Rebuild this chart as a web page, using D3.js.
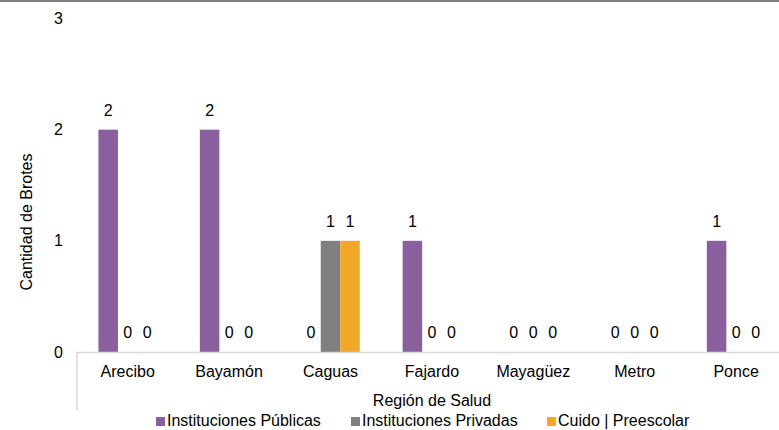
<!DOCTYPE html>
<html>
<head>
<meta charset="utf-8">
<script src="https://cdn.jsdelivr.net/npm/d3@7"></script>
<style>
  body { margin: 0; background: #fff; }
  svg { display: block; font-family: "Liberation Sans", Arial, sans-serif; }
  text { fill: #000; font-size: 16px; }
</style>
</head>
<body>
<svg width="779" height="430"></svg>
<script>
const regions = ['Arecibo', 'Bayamón', 'Caguas', 'Fajardo', 'Mayagüez', 'Metro', 'Ponce']
const seriesNames = ['Instituciones Públicas', 'Instituciones Privadas', 'Cuido | Preescolar']
const publicas = [2, 2, 0, 1, 0, 0, 1]
const privadas = [0, 0, 1, 0, 0, 0, 0]
const cuido = [0, 0, 1, 0, 0, 0, 0]
const yTicks = [0, 1, 2, 3]

const colors = ['#8A5F9E', '#7F7F7F', '#F0A72A']
const values = [publicas, privadas, cuido]

const svg = d3.select('svg')
const width = +svg.attr('width')

const baseY = 352
const left = 77

// top border
svg.append('rect')
    .attr('x', 0).attr('y', 0)
    .attr('width', width).attr('height', 2)
    .attr('fill', '#7f7f7f')

const yScale = d3.scaleLinear()
    .domain([0, 3])
    .range([baseY, 18.5])

const x0 = d3.scaleBand()
    .domain(regions)
    .range([left, left + 101.4 * regions.length])

const x1 = d3.scaleBand()
    .domain(seriesNames)
    .range([0, x0.bandwidth()])
    .paddingOuter(1.1)

// y axis labels
svg.append('g')
    .attr('transform', `translate(${left},0)`)
    .call(d3.axisLeft(yScale).tickValues(yTicks).tickSize(0).tickPadding(14).tickFormat(d3.format('d')))
    .call(g => g.select('.domain').remove())
    .selectAll('text')
        .style('font-size', '16px')
        .style('font-family', '"Liberation Sans", Arial, sans-serif')
        .attr('fill', '#000')

const rows = regions.map((r, i) => ({
    region: r,
    bars: seriesNames.map((s, j) => ({ series: s, value: values[j][i], color: colors[j] }))
}))

const groups = svg.selectAll('.grp')
    .data(rows)
    .enter().append('g')
    .attr('class', 'grp')
    .attr('transform', d => `translate(${x0(d.region)},0)`)

groups.selectAll('rect')
    .data(d => d.bars)
    .enter().append('rect')
    .attr('x', d => x1(d.series))
    .attr('y', d => yScale(d.value))
    .attr('width', x1.bandwidth())
    .attr('height', d => baseY - yScale(d.value))
    .attr('fill', d => d.color)

groups.selectAll('text')
    .data(d => d.bars)
    .enter().append('text')
    .attr('x', d => x1(d.series) + x1.bandwidth() / 2)
    .attr('y', d => yScale(d.value) - 14)
    .attr('text-anchor', 'middle')
    .text(d => d.value)

// x axis
const xAxis = svg.append('g')
    .attr('transform', `translate(0,${baseY})`)
    .call(d3.axisBottom(x0).tickSize(0).tickSizeOuter(0).tickPadding(14))
xAxis.select('.domain')
    .attr('stroke', '#d9d9d9')
    .attr('stroke-width', 1.5)
xAxis.selectAll('text')
    .style('font-size', '16px')
    .style('font-family', '"Liberation Sans", Arial, sans-serif')
    .attr('fill', '#000')
    .attr('dy', 0)
    .attr('y', 25)

svg.append('line')
    .attr('x1', left).attr('x2', left)
    .attr('y1', baseY).attr('y2', 410)
    .attr('stroke', '#d9d9d9')
    .attr('stroke-width', 1.5)

svg.append('text')
    .attr('x', 432)
    .attr('y', 406)
    .attr('text-anchor', 'middle')
    .text('Región de Salud')

svg.append('text')
    .attr('transform', 'translate(32,222) rotate(-90)')
    .attr('text-anchor', 'middle')
    .text('Cantidad de Brotes')

// legend
const legendX = [156, 351, 547]
const legend = svg.selectAll('.leg')
    .data(seriesNames)
    .enter().append('g')
    .attr('class', 'leg')
    .attr('transform', (d, i) => `translate(${legendX[i]},417)`)
legend.append('rect')
    .attr('width', 9).attr('height', 9)
    .attr('fill', (d, i) => colors[i])
legend.append('text')
    .attr('x', 11)
    .attr('y', 8.5)
    .text(d => d)
</script>
</body>
</html>
